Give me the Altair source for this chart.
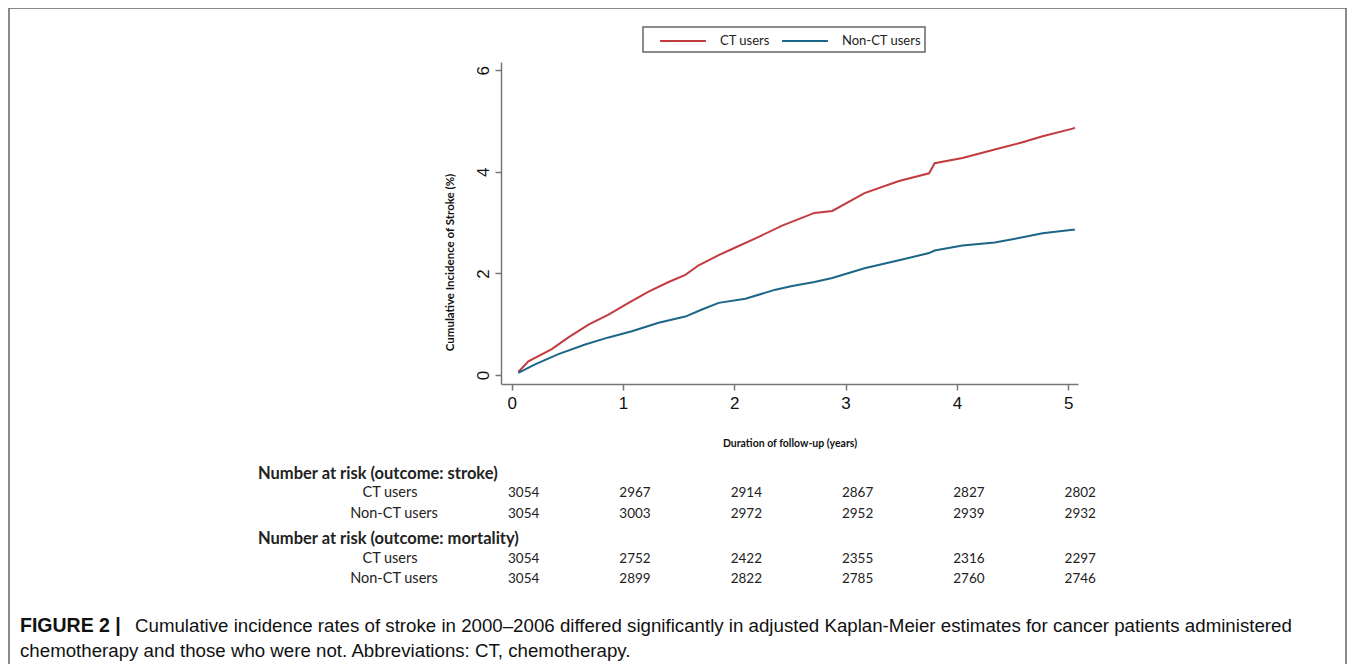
import altair as alt
import pandas as pd

# ---- data ----
ct_t = [0.06, 0.15, 0.36, 0.51, 0.69, 0.87, 1.05, 1.23, 1.41, 1.56, 1.68, 1.86, 2.00, 2.20,
        2.43, 2.72, 2.88, 3.17, 3.48, 3.75, 3.80, 4.05, 4.34, 4.59, 4.77, 5.04, 5.06]
ct_y = [0.06, 0.27, 0.51, 0.74, 0.99, 1.19, 1.42, 1.64, 1.83, 1.97, 2.16, 2.36, 2.50, 2.70,
        2.94, 3.19, 3.23, 3.58, 3.82, 3.97, 4.17, 4.27, 4.44, 4.58, 4.70, 4.85, 4.87]
non_t = [0.06, 0.21, 0.42, 0.66, 0.87, 1.08, 1.32, 1.56, 1.71, 1.86, 2.10, 2.37, 2.52, 2.72,
         2.88, 3.17, 3.48, 3.75, 3.80, 4.05, 4.34, 4.59, 4.77, 5.04, 5.06]
non_y = [0.04, 0.21, 0.41, 0.60, 0.74, 0.86, 1.03, 1.15, 1.29, 1.42, 1.50, 1.68, 1.75, 1.83,
         1.91, 2.10, 2.26, 2.40, 2.45, 2.55, 2.61, 2.71, 2.79, 2.86, 2.86]

groups = ["CT users", "Non-CT users"]
colors = ["#c23b3f", "#1c6687"]

risk_years = [0, 1, 2, 3, 4, 5]
stroke_ct = [3054, 2967, 2914, 2867, 2827, 2802]
stroke_non = [3054, 3003, 2972, 2952, 2939, 2932]
mort_ct = [3054, 2752, 2422, 2355, 2316, 2297]
mort_non = [3054, 2899, 2822, 2785, 2760, 2746]

x_title = "Duration of follow-up (years)"
y_title = "Cumulative Incidence of Stroke (%)"
head_stroke = "Number at risk (outcome: stroke)"
head_mort = "Number at risk (outcome: mortality)"
cap_bold = "FIGURE 2 |"
cap_line1 = ("Cumulative incidence rates of stroke in 2000\u20132006 differed significantly in adjusted "
             "Kaplan-Meier estimates for cancer patients administered")
cap_line2 = "chemotherapy and those who were not. Abbreviations: CT, chemotherapy."

# ---- build tables ----
curves = pd.concat([
    pd.DataFrame({"t": ct_t, "y": ct_y, "group": groups[0]}),
    pd.DataFrame({"t": non_t, "y": non_y, "group": groups[1]}),
])

X_DOM = [-0.096, 5.088]
Y_DOM = [-0.177, 6.161]
TBL_FONT = "Lato"
AX_FONT = "Liberation Sans"

xscale = alt.Scale(domain=X_DOM, nice=False, zero=False)
yscale = alt.Scale(domain=Y_DOM, nice=False, zero=False)

lines = alt.Chart(curves).mark_line(strokeWidth=2, interpolate="linear").encode(
    x=alt.X("t:Q", scale=xscale,
            axis=alt.Axis(values=[0, 1, 2, 3, 4, 5], format="d", title=x_title,
                          grid=False, domainColor="#777", tickColor="#777", domainWidth=1.5,
                          tickWidth=1.5, tickSize=6, labelFont=AX_FONT, labelFontSize=17,
                          labelColor="#111", labelPadding=5, titleFont=TBL_FONT,
                          titleFontSize=10.5, titleFontWeight="bold", titleColor="#111",
                          titlePadding=27)),
    y=alt.Y("y:Q", scale=yscale,
            axis=alt.Axis(values=[0, 2, 4, 6], format="d", title=y_title, grid=False,
                          domainColor="#777", tickColor="#777", domainWidth=1.5, tickWidth=1.5,
                          tickSize=6, labelAngle=270, labelAlign="center",
                          labelBaseline="bottom", labelFont=AX_FONT, labelFontSize=17,
                          labelColor="#111", labelPadding=3, titleFont=TBL_FONT,
                          titleFontSize=11.5, titleFontWeight="bold", titleColor="#111",
                          titlePadding=19, titleY=200)),
    color=alt.Color("group:N", scale=alt.Scale(domain=groups, range=colors),
                    legend=alt.Legend(title=None, orient="none", direction="horizontal",
                                      legendX=158, legendY=-45, symbolType="stroke",
                                      symbolSize=2100, symbolStrokeWidth=2, labelFont=TBL_FONT,
                                      labelFontSize=13, labelColor="#222", labelOffset=13,
                                      columnPadding=8, padding=0)),
)

# legend frame
box_df = pd.DataFrame({"k": [0]})
legend_box = alt.Chart(box_df).mark_rect(fill="white", stroke="#666", strokeWidth=1.5).encode(
    x=alt.value(142), x2=alt.value(424), y=alt.value(-35), y2=alt.value(-10))

# outer frame
frame = alt.Chart(box_df).mark_rect(fill=None, stroke="#666", strokeWidth=1.5).encode(
    x=alt.value(-492), x2=alt.value(845), y=alt.value(-54), y2=alt.value(640))

def num_row(vals, ypx):
    df = pd.DataFrame({"t": risk_years, "n": vals})
    return alt.Chart(df).mark_text(font=TBL_FONT, fontSize=13.5, color="#222", dx=12,
                                   baseline="middle", align="center").encode(
        x=alt.X("t:Q", scale=xscale), y=alt.value(ypx), text="n:Q")

def label(txt, xpx, ypx, align="left", weight="normal", size=13, font=TBL_FONT, color="#222"):
    df = pd.DataFrame({"s": [txt]})
    return alt.Chart(df).mark_text(font=font, fontSize=size, fontWeight=weight, color=color,
                                   align=align, baseline="middle").encode(
        x=alt.value(xpx), y=alt.value(ypx), text="s:N")

table = [
    label(head_stroke, -243, 412, weight="bold", size=16.5),
    label(groups[0], -111, 431, align="center", size=14.5),
    label(groups[1], -107, 452, align="center", size=14.5),
    num_row(stroke_ct, 431),
    num_row(stroke_non, 452),
    label(head_mort, -243, 477, weight="bold", size=16.5),
    label(groups[0], -111, 497, align="center", size=14.5),
    label(groups[1], -107, 517, align="center", size=14.5),
    num_row(mort_ct, 497),
    num_row(mort_non, 517),
]

caption = [
    label(cap_bold, -481, 564, weight="bold", size=19.5, font="Liberation Sans", color="#111"),
    label(cap_line1, -366, 564, size=18.7, font="Liberation Sans", color="#111"),
    label(cap_line2, -481, 589, size=18.7, font="Liberation Sans", color="#111"),
]

chart = alt.layer(frame, legend_box, lines, *table, *caption).properties(
    width=577, height=322,
    autosize=alt.AutoSizeParams(type="none"),
    padding={"left": 493, "top": 54, "right": 269, "bottom": 280},
    background="white",
).configure_view(strokeWidth=0)

chart.save("out.html", embed_options={"renderer": "svg", "actions": False})
